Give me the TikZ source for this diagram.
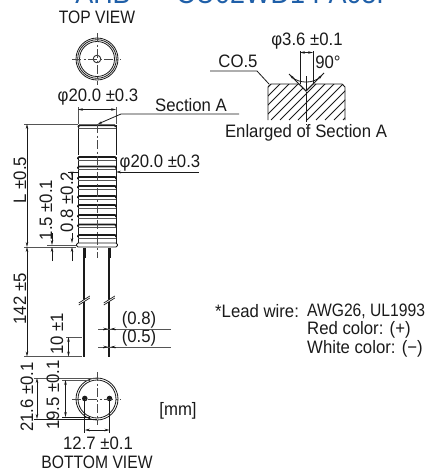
\documentclass[tikz,border=0pt]{standalone}
\usepackage{fontspec}
\setmainfont[FakeStretch=0.93]{Liberation Sans}
\newfontfamily\capsface[FakeStretch=0.87]{Liberation Sans}
\usetikzlibrary{arrows.meta}
\definecolor{ink}{HTML}{1A1A1A}
\definecolor{ext}{HTML}{555555}
\definecolor{ttl}{HTML}{1F5FA8}
\tikzset{
 lbl/.style={font=\fontsize{18}{21}\selectfont,text=ink,inner sep=0pt},
 caplbl/.style={font=\capsface\fontsize{18}{21}\selectfont,text=ink,inner sep=0pt},
 ttltext/.style={font=\fontsize{29}{32}\selectfont,text=ttl,inner sep=0pt},
 thin line/.style={draw=ink,line width=0.8pt},
 extline/.style={draw=ext,line width=0.9pt},
 dimline/.style={draw=ink,line width=0.7pt,{Stealth[length=5pt,width=2.6pt]}-{Stealth[length=5pt,width=2.6pt]}},
 dimend/.style={draw=ink,line width=0.7pt,-{Stealth[length=5pt,width=2.6pt]}},
 centre/.style={draw=ink!80,line width=0.8pt,dash pattern=on 9pt off 2.5pt on 2pt off 2.5pt},
 rib/.style={draw=ink,line width=1.6pt,rounded corners=1pt},
 ribthin/.style={draw=ext,line width=0.8pt},
 hatchline/.style={draw=ink,line width=0.8pt},
}
\begin{document}
\begin{tikzpicture}[x=1pt,y=-1pt]
\useasboundingbox (0,0) rectangle (428,471);
% title, cut by the upper edge as in the reference
\begin{scope}
\clip (0,0) rectangle (428,471);
\node[ttltext,anchor=base] (ttlA) at (103,3.5) {AHB};
\node[ttltext,anchor=base west] (ttlB) at (176,3.5) {CU02WD1 PA05P};
\end{scope}
\node[caplbl] (topv) at (97,17) {TOP VIEW};
% top view
\draw[thin line] (97,59) circle (21) (97,59) circle (19.3) (97,59) circle (17.5);
\draw[thin line] (97,59) circle (3.8);
\draw[centre] (72,59) -- (121,59);
\draw[centre] (97,33) -- (97,85);
% phi 20 top
\node[lbl] (d1) at (98,97) {φ20.0 ±0.3};
\draw[extline] (78,107) -- (78,124);
\draw[extline] (116,107) -- (116,124);
\draw[dimline] (78,109.5) -- (116,109.5);
% section A
\node[lbl] (secA) at (191,105) {Section A};
\coordinate (sa0) at (98,124);
\coordinate (sa1) at (121,114);
\coordinate (sa2) at (239,114);
\draw[thin line,{Stealth[length=4pt,width=2.4pt]}-] (sa0) -- (sa1) -- (sa2);
% body
\draw[ink,line width=0.9pt] (78,125) -- (78,155) (116,125) -- (116,155);
\draw[ink,line width=0.9pt] (78,157) -- (78,243) (116,157) -- (116,243);
\draw[rib] (78.5,127) -- (78.5,125.2) -- (115.5,125.2) -- (115.5,127);
\draw[ribthin] (78,128) -- (116,128);
\foreach \y/\g in {157/0,166.5/1,177/0,186/1,196/0,205/1,215/0,224.5/1,235/0}{
  \draw[rib] (78,\y+2) -- (78,\y) -- (116,\y) -- (116,\y+2);
  \draw[ribthin] (78,\y+3) -- (116,\y+3);
}
\draw[fill=white,draw=ink,line width=0.9pt,rounded corners=1.5pt] (76.5,243) rectangle (117.5,247);
\draw[centre] (97,124) -- (97,258);
% leads
\draw[ink,line width=3pt] (84.3,248) -- (84.3,258) (109.3,248) -- (109.3,258);
\draw[ink,line width=1.8pt] (84.3,258) -- (84.3,356.5) (109.3,258) -- (109.3,356.5);
\foreach \x in {84.3,109.3}{
  \draw[white,line width=2pt] (\x-5.5,303) -- (\x+5.5,298);
  \draw[ink,line width=0.7pt] (\x-5.5,305) -- (\x+5.5,298);
  \draw[ink,line width=0.7pt] (\x-5.5,303) -- (\x+5.5,296);
}
% L
\draw[extline] (24,124) -- (78,124);
\draw[extline] (24,247) -- (76,247);
\draw[dimline] (27,124) -- (27,247);
\node[lbl,rotate=90] (dL) at (20,180) {L ±0.5};
% 1.5
\node[lbl,rotate=90] (d15) at (46,210) {1.5 ±0.1};
\draw[dimend] (52,233) -- (52,245);
\draw[dimend] (52,261) -- (52,247);
\draw[extline] (47,245) -- (76,245);
% 0.8
\node[lbl,rotate=90] (d08) at (67,202) {0.8 ±0.2};
\draw[dimend] (72,233) -- (72,243);
\draw[dimend] (72,261) -- (72,247);
\draw[dimend] (72,173) -- (72,176);
\draw[thin line] (68,172) -- (78,172);
% phi 20 side
\node[lbl] (d2) at (160,163) {φ20.0 ±0.3};
\coordinate (p0) at (116,172);
\coordinate (p1) at (199,172);
\draw[thin line,{Stealth[length=5pt,width=2.6pt]}-] (p0) -- (p1);
% 142
\node[lbl,rotate=90] (d142) at (20,299) {142 ±5};
\draw[extline] (24,356.5) -- (82,356.5);
\draw[dimline] (27,247) -- (27,356.5);
% 10
\node[lbl,rotate=90] (d10) at (57,334) {10 ±1};
\draw[extline] (66,337) -- (82,337);
\draw[dimline] (68.5,337) -- (68.5,356.5);
% 0.8 / 0.5
\node[lbl] (p08) at (139,320) {(0.8)};
\node[lbl] (p05) at (139,338) {(0.5)};
\draw[extline] (98,329) -- (171,329);
\draw[extline] (98,347) -- (171,347);
\foreach \y in {329,347}{
  \draw[dimend] (103,\y) -- (108.3,\y);
  \draw[dimend] (116,\y) -- (110.3,\y);
}
% lead wire note
\node[lbl,anchor=west] (n1) at (215,311) {*Lead wire:};
\node[caplbl,anchor=west] (n2) at (307,311) {AWG26, UL1993};
\node[lbl,anchor=west] (n3) at (307,330) {Red color: (+)};
\node[lbl,anchor=west] (n4) at (307,349) {White color: (−)};
% bottom view
\draw[thin line] (97,399) circle (21) (97,399) circle (19);
\fill[ink] (84.8,398.5) circle (2.8) (109.5,398.5) circle (2.8);
\draw[centre] (72,399) -- (121,399);
\draw[centre] (97,372) -- (97,425);
\draw[extline] (34,378) -- (97,378);
\draw[ink,line width=0.8pt] (34,419) -- (97,419);
\draw[dimline] (37,378) -- (37,419);
\node[lbl,rotate=90] (d216) at (27,397) {21.6 ±0.1};
\draw[extline] (62,380) -- (90,380);
\draw[ink,line width=0.8pt] (62,417) -- (90,417);
\draw[dimline] (65.5,380) -- (65.5,417);
\node[lbl,rotate=90] (d195) at (53,395) {19.5 ±0.1};
\draw[thin line] (84.8,399) -- (84.8,433) (109.5,399) -- (109.5,433);
\draw[dimline] (84.8,430) -- (109.5,430);
\node[lbl] (d127) at (98,443) {12.7 ±0.1};
\node[caplbl] (botv) at (97,462) {BOTTOM VIEW};
\node[lbl] (mm) at (178,411) {[mm]};
% enlarged section
\begin{scope}
\clip (268,84) rectangle (345,120);
\foreach \hx in {226,235,...,352}{
  \draw[hatchline] (\hx,120) -- ++(40,-40);
}
\end{scope}
\fill[white] (298,83) -- (314,83) -- (306,91) -- cycle;
\draw[ink,line width=0.9pt] (268,120) -- (268,87) -- (271,84) -- (299,84) -- (306,91) -- (313,84) -- (342,84) -- (345,87) -- (345,120);
\draw[thin line] (289,74) -- (306,91) -- (324,73);
\draw[thin line,{Stealth[length=5pt,width=2.6pt]}-{Stealth[length=5pt,width=2.6pt]}] (289.8,74.8) arc[start angle=135,end angle=45,radius=23];
\draw[thin line] (300,51) -- (300,84) (313,51) -- (313,84);
\draw[dimline] (300,52.5) -- (313,52.5);
\draw[ink,line width=0.8pt,dash pattern=on 14pt off 2pt on 30pt off 2pt] (306,76) -- (306,125);
\node[lbl] (d36) at (307,41) {φ3.6 ±0.1};
\node[lbl] (d90) at (328,62) {90°};
\node[lbl] (c05) at (238,61) {CO.5};
\coordinate (c0) at (210,71);
\coordinate (c1) at (257,71);
\coordinate (c2) at (269,84);
\draw[thin line] (c0) -- (c1) -- (c2);
\node[lbl] (enl) at (306,133) {Enlarged of Section A};
\end{tikzpicture}
\end{document}
